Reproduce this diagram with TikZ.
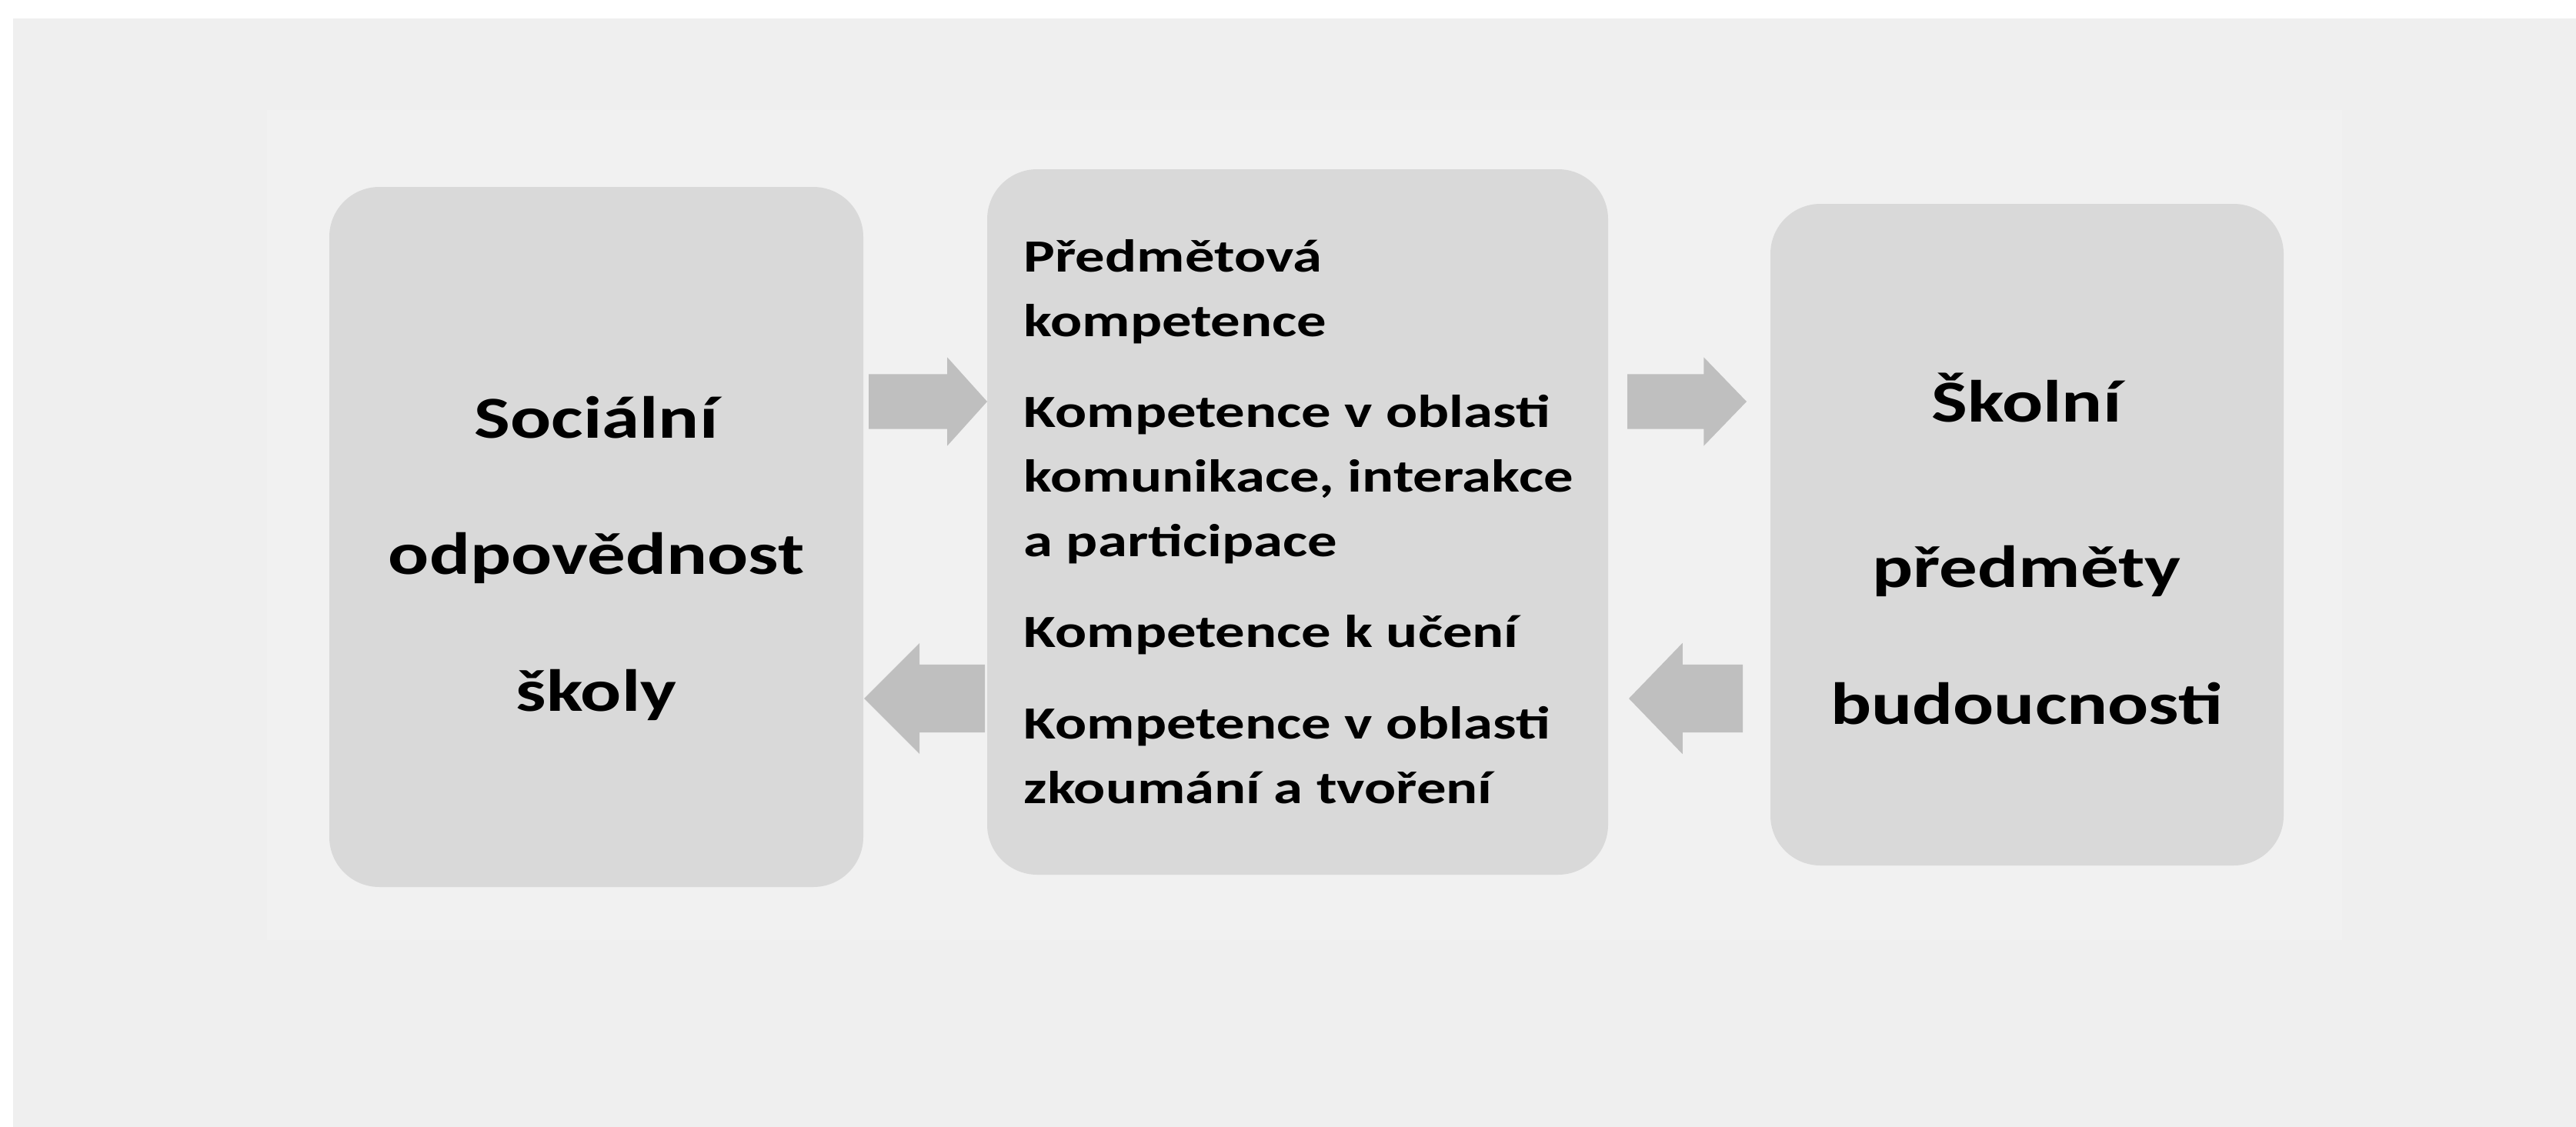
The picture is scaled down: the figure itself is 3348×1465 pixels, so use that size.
\documentclass[tikz,border=0pt]{standalone}
\usepackage{fontspec}
\setmainfont{Carlito}[FakeStretch=1.28]
\usepackage{xcolor}
\usetikzlibrary{shapes.arrows}
\definecolor{kastengrau}{RGB}{217, 217, 217}
\definecolor{pfeilgrau}{RGB}{191, 191, 191}
\definecolor{aussengrau}{RGB}{239, 239, 239}
\definecolor{innengrau}{RGB}{241, 241, 241}

\begin{document}
\begin{tikzpicture}[x=0.1mm, y=-0.1mm,
    kasten/.style={fill=kastengrau, rounded corners=6.5mm, inner sep=0pt, outer sep=0pt},
    pfeil/.style={single arrow, fill=pfeilgrau, inner xsep=0pt, minimum width=0pt,
        single arrow head indent=0pt, outer sep=0pt, anchor=tail},
    titel/.style={font=\bfseries\fontsize{22}{50.4}\selectfont, align=center, inner sep=0pt},
    liste/.style={font=\bfseries\fontsize{17.05}{23.9}\selectfont, align=left, inner sep=0pt}]

    % Rahmen (weiss oben und links, dann zwei Grautoene)
    \useasboundingbox (0,0) rectangle (3348,1465);
    \fill[white] (0,0) rectangle (3348,1465);
    \fill[aussengrau] (17,24) rectangle (3348,1465);
    \fill[innengrau] (347,143) rectangle (3044,1222);

    % ==========================================
    % KAESTEN
    % ==========================================
    \node[kasten, minimum width=69.4mm, minimum height=91mm] (schule) at (775,698) {};
    \node[kasten, minimum width=80.7mm, minimum height=91.7mm] (kompetenz) at (1686.5,678.5) {};
    \node[kasten, minimum width=66.7mm, minimum height=86mm] (faecher) at (2634.5,695) {};

    % Beschriftungen (Anker an der Grundlinie der letzten Zeile)
    \node[titel, anchor=base] (schuletext) at (775,924)
        {Sociální\\odpovědnost\\školy};
    \node[liste, anchor=base west] (kompetenztext) at (1330,1044)
        {Předmětová\\kompetence\\[9.7pt]
         Kompetence v oblasti\\komunikace, interakce\\a participace\\[9.7pt]
         Kompetence k učení\\[9.7pt]
         Kompetence v oblasti\\zkoumání a tvoření};
    \node[titel, anchor=base] (faechertext) at (2634,941)
        {Školní\\[11pt]předměty\\budoucnosti};

    % ==========================================
    % PFEILE (oben nach rechts, unten nach links)
    % ==========================================
    \node[pfeil, minimum height=15.4mm, inner ysep=3.5mm, single arrow head extend=2.2mm,
        single arrow tip angle=96] (p1) at (1129,522) {};
    \node[pfeil, minimum height=15.5mm, inner ysep=3.5mm, single arrow head extend=2.2mm,
        single arrow tip angle=92] (p3) at (2115,522) {};
    \node[pfeil, shape border rotate=180, minimum height=15.7mm, inner ysep=4.35mm,
        single arrow head extend=2.8mm, single arrow tip angle=90] (p2) at (1280,908) {};
    \node[pfeil, shape border rotate=180, minimum height=14.8mm, inner ysep=4.35mm,
        single arrow head extend=2.8mm, single arrow tip angle=92] (p4) at (2265,908) {};

\end{tikzpicture}
\end{document}
